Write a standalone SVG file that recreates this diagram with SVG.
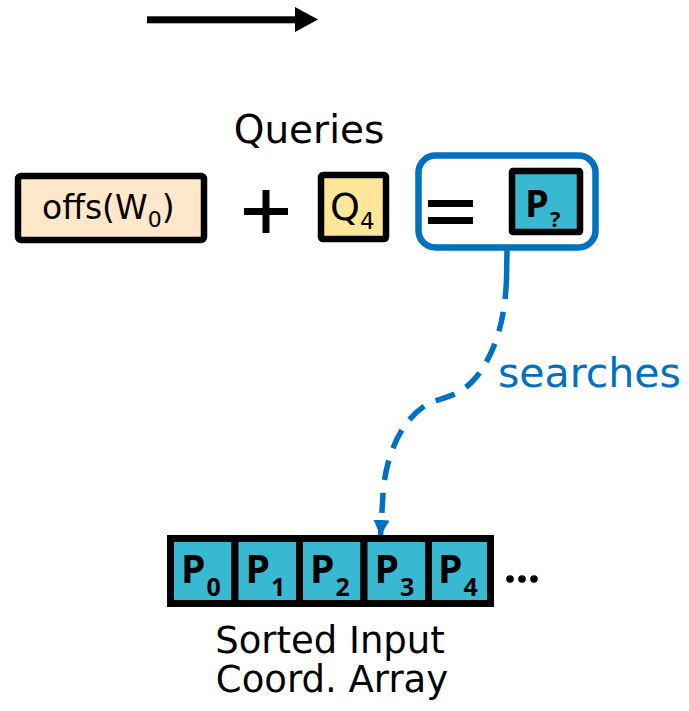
<svg xmlns="http://www.w3.org/2000/svg" width="689" height="711" viewBox="0 0 689 711">
  <style>
    .t { font-family: "DejaVu Sans", "Liberation Sans", sans-serif; fill: #000; }
    .p { font-family: "Open Sans", "DejaVu Sans", sans-serif; font-weight: 700; fill: #000; }
    .box { stroke: #000; stroke-width: 6.5; }
    .cell { fill: #39B9D1; stroke: #000; stroke-width: 7; }
    .blue { fill: #0070C0; }
  </style>
  <defs>
    <marker id="head" markerUnits="userSpaceOnUse" markerWidth="18" markerHeight="16" refX="16" refY="8" orient="auto">
      <path d="M0,0 L16,8 L0,16 Z" fill="#0070C0"/>
    </marker>
  </defs>

  <!-- direction arrow -->
  <g id="direction-arrow">
    <rect x="147" y="16.3" width="150" height="7" fill="#000"/>
    <polygon points="295,7 318,19.5 295,32" fill="#000"/>
  </g>

  <!-- label above query -->
  <g id="queries-label">
    <text class="t" x="309" y="143" font-size="39" text-anchor="middle">Queries</text>
  </g>

  <!-- offset term -->
  <g id="offs">
    <rect class="box" x="18" y="176" width="186" height="64" rx="3" fill="#FFE7C9"/>
    <text class="t" x="42" y="219" font-size="33">offs(W<tspan font-size="22" dy="8">0</tspan><tspan dy="-8">)</tspan></text>
  </g>

  <!-- plus sign -->
  <g id="plus">
    <rect x="244" y="208" width="44" height="7" fill="#000"/>
    <rect x="262.5" y="190" width="7" height="43" fill="#000"/>
  </g>

  <!-- query point -->
  <g id="q4">
    <rect class="box" x="321" y="175" width="65" height="64" rx="2" fill="#FFE699"/>
    <text class="t" x="330" y="220" font-size="38">Q<tspan font-size="23" dy="9">4</tspan></text>
  </g>

  <!-- result: unknown input point -->
  <g id="result">
    <rect x="418.5" y="155.5" width="177" height="92" rx="17" fill="#fff" stroke="#0070C0" stroke-width="6.5"/>
    <rect x="428" y="200" width="45" height="7" fill="#000"/>
    <rect x="428" y="217" width="45" height="7" fill="#000"/>
    <rect class="box" x="512" y="171" width="68" height="61" rx="1" fill="#39B9D1"/>
    <text class="p" x="525" y="217" font-size="38">P<tspan font-size="22" dy="10" dx="1">?</tspan></text>
  </g>

  <!-- search connector -->
  <g id="connectors">
    <path d="M507,250 L506.5,279" fill="none" stroke="#0070C0" stroke-width="5.5"/>
    <path d="M506.5,279 C505,320 496,350 478,375 C462,396 444,397 432,402 C405,414 386,450 383,494 L380.5,536"
          fill="none" stroke="#0070C0" stroke-width="5.5" stroke-dasharray="20,13" marker-end="url(#head)"/>
    <text x="498" y="387" font-family="DejaVu Sans, Liberation Sans, sans-serif" font-size="41" class="blue">searches</text>
  </g>

  <!-- sorted input coordinate array -->
  <g id="array">
    <g id="cell-0">
      <rect class="cell" x="170.5" y="538.5" width="64.5" height="65"/>
      <text class="p" x="181" y="583" font-size="39">P<tspan font-size="25" dy="13" dx="1">0</tspan></text>
    </g>
    <g id="cell-1">
      <rect class="cell" x="235" y="538.5" width="64.5" height="65"/>
      <text class="p" x="245.5" y="583" font-size="39">P<tspan font-size="25" dy="13" dx="1">1</tspan></text>
    </g>
    <g id="cell-2">
      <rect class="cell" x="299.5" y="538.5" width="64.5" height="65"/>
      <text class="p" x="310" y="583" font-size="39">P<tspan font-size="25" dy="13" dx="1">2</tspan></text>
    </g>
    <g id="cell-3">
      <rect class="cell" x="364" y="538.5" width="64.5" height="65"/>
      <text class="p" x="374.5" y="583" font-size="39">P<tspan font-size="25" dy="13" dx="1">3</tspan></text>
    </g>
    <g id="cell-4">
      <rect class="cell" x="428.5" y="538.5" width="62" height="65"/>
      <text class="p" x="438" y="583" font-size="39">P<tspan font-size="25" dy="13" dx="1">4</tspan></text>
    </g>
    <g id="ellipsis">
      <circle cx="510" cy="579" r="3.8" fill="#000"/>
      <circle cx="522" cy="579" r="3.8" fill="#000"/>
      <circle cx="534" cy="579" r="3.8" fill="#000"/>
    </g>
  </g>

  <!-- caption -->
  <g id="caption">
    <text class="t" x="330" y="653" font-size="37" text-anchor="middle">Sorted Input</text>
    <text class="t" x="332" y="692" font-size="37" text-anchor="middle">Coord. Array</text>
  </g>
</svg>
